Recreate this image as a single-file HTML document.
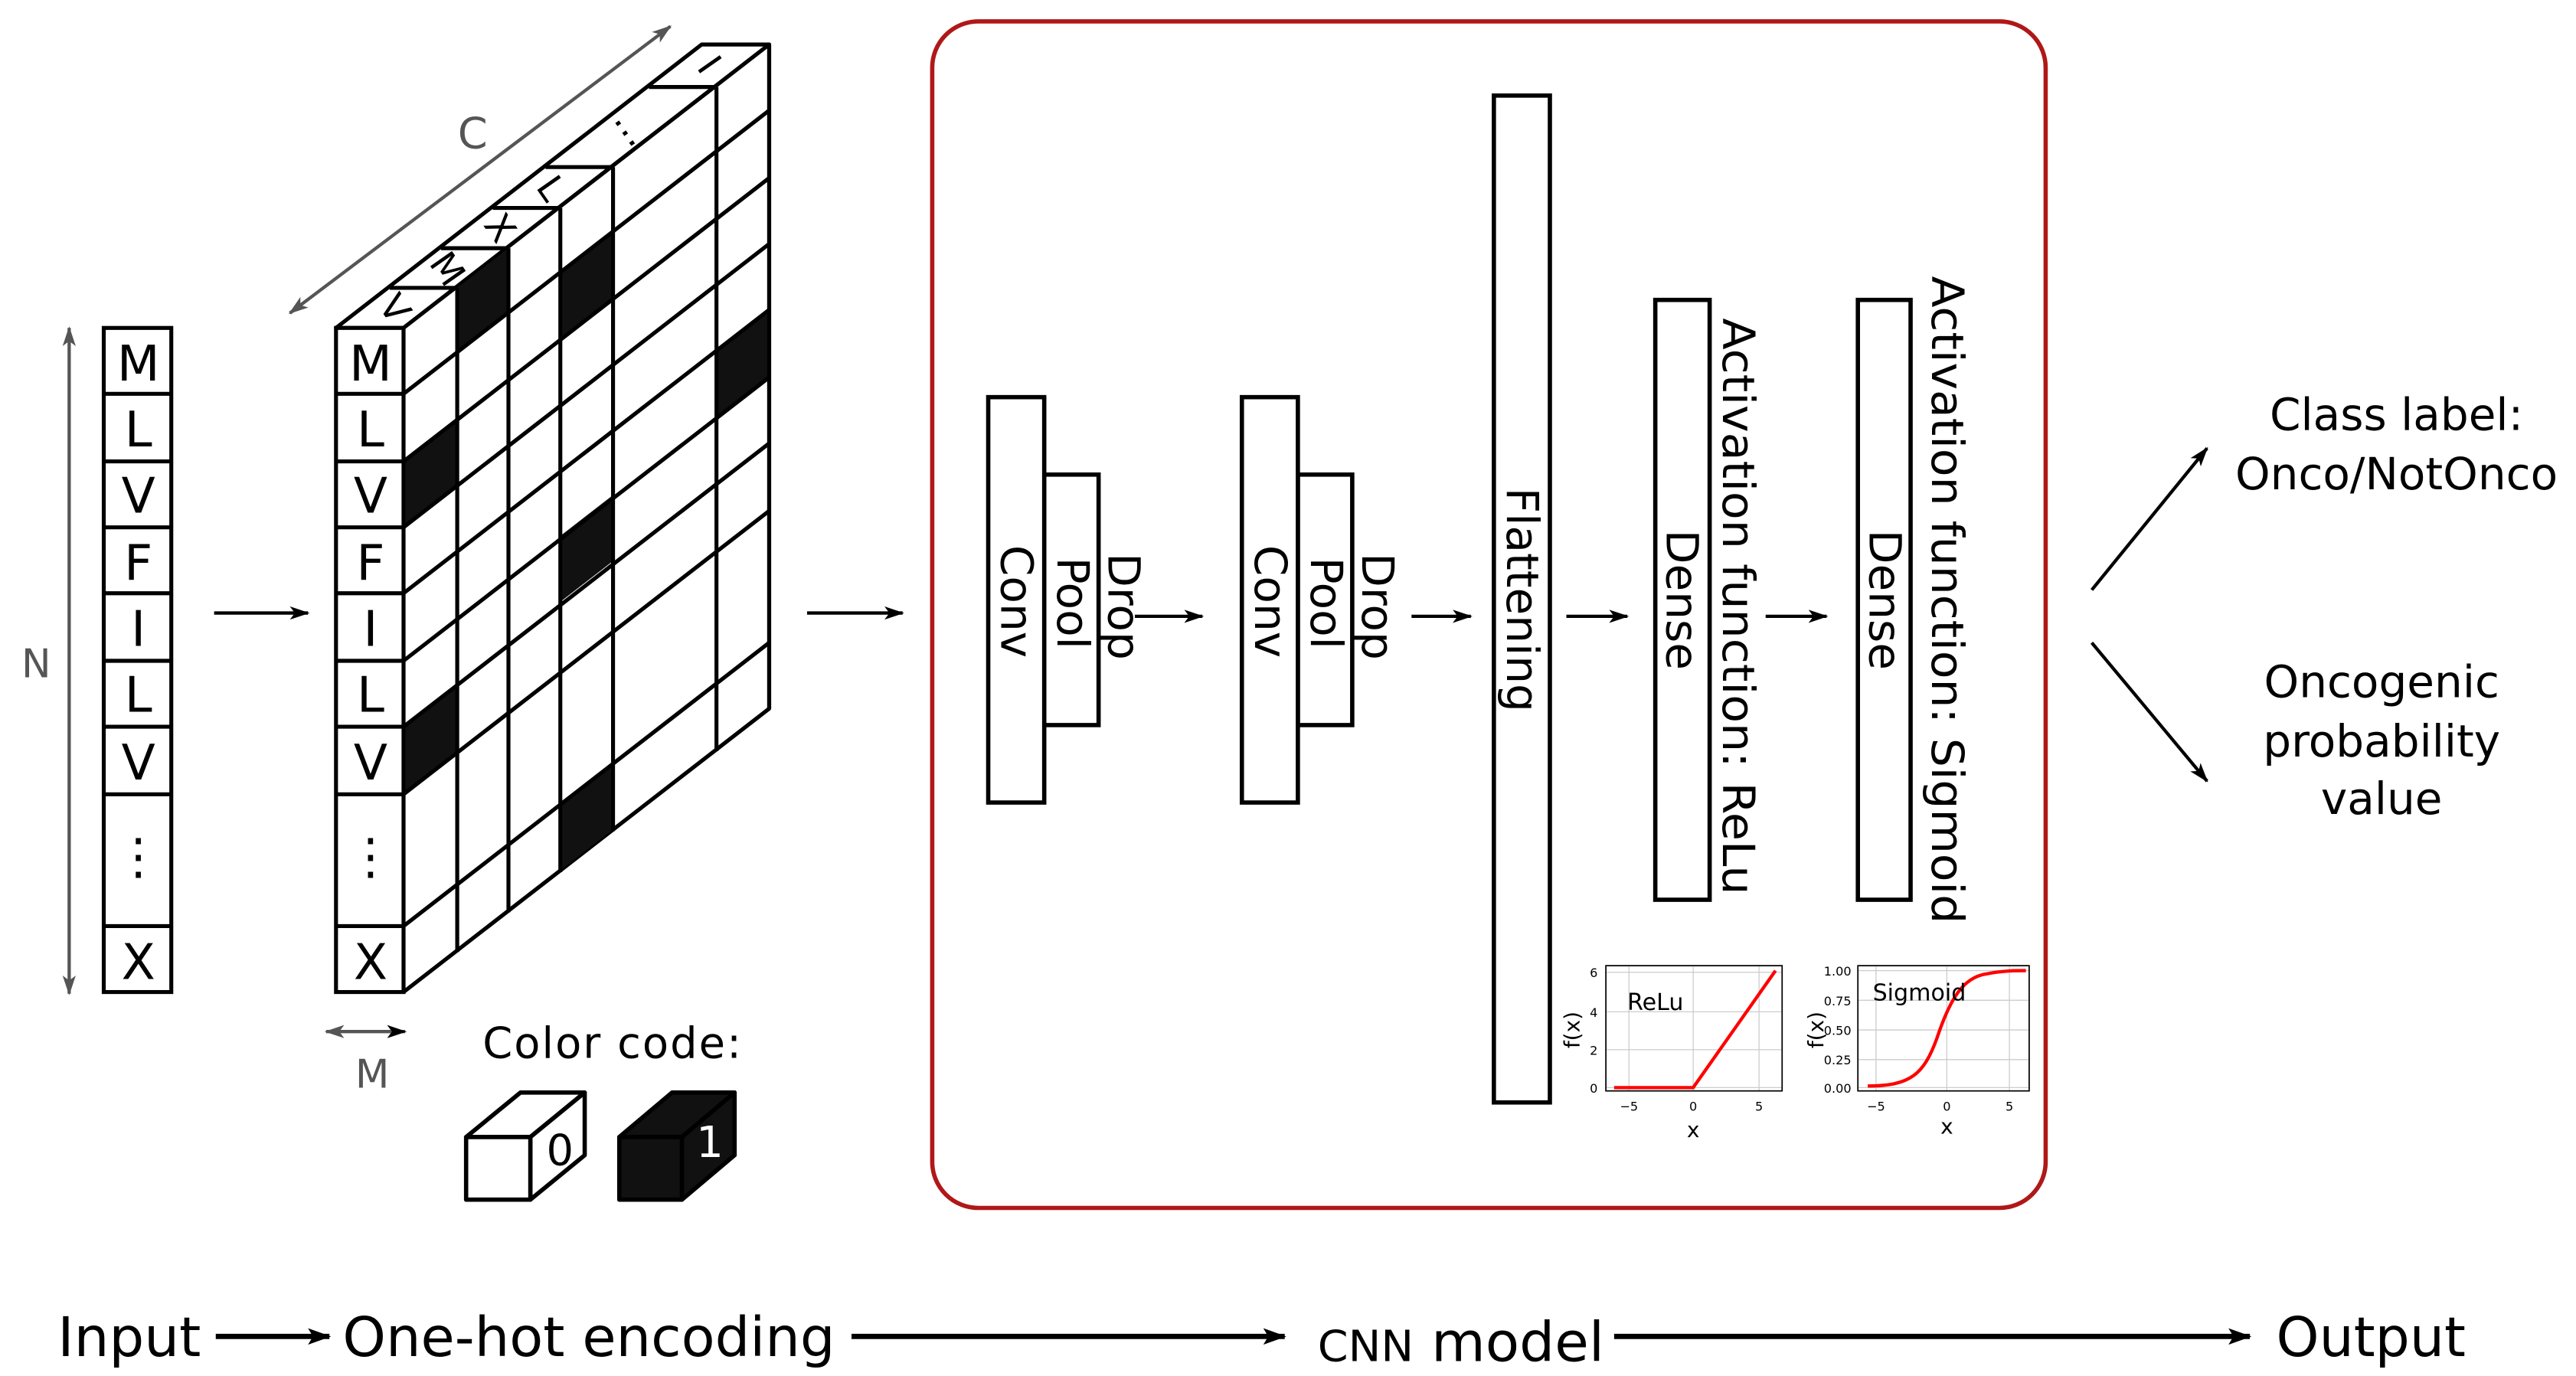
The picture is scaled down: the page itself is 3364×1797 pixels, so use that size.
<!DOCTYPE html>
<html><head><meta charset="utf-8"><style>html,body{margin:0;padding:0;background:#fff}svg{display:block}</style></head>
<body>
<svg width="3364" height="1797" viewBox="0 0 1564 835" preserveAspectRatio="none" xmlns="http://www.w3.org/2000/svg" font-family="'DejaVu Sans','Liberation Sans',sans-serif">
<defs>
<marker id="a" viewBox="0 0 12 8" refX="11" refY="4" markerWidth="12" markerHeight="8" markerUnits="userSpaceOnUse" orient="auto"><path d="M0,0 L12,4 L0,8 L3,4 z" fill="#000"/></marker>
<marker id="g" viewBox="0 0 12 8" refX="11" refY="4" markerWidth="12" markerHeight="8" markerUnits="userSpaceOnUse" orient="auto-start-reverse"><path d="M0,0 L12,4 L0,8 L3,4 z" fill="#555"/></marker>
<marker id="b" viewBox="0 0 14 10" refX="13" refY="5" markerWidth="14" markerHeight="10" markerUnits="userSpaceOnUse" orient="auto"><path d="M0,0 L14,5 L0,10 L3,5 z" fill="#000"/></marker>
</defs>

<!-- Left input column -->
<g stroke="#000" stroke-width="2.4" fill="#fff">
<rect x="63" y="199" width="41" height="403"/>
<path d="M63 239H104M63 280H104M63 320H104M63 360H104M63 401H104M63 441H104M63 482H104M63 562H104" fill="none"/>
</g>
<g font-size="30" text-anchor="middle" fill="#000">
<text x="84" y="231">M</text><text x="84" y="271">L</text><text x="84" y="311">V</text><text x="84" y="352">F</text><text x="84" y="392">I</text><text x="84" y="432">L</text><text x="84" y="473">V</text><text x="84" y="530">⋮</text><text x="84" y="594">X</text>
</g>
<line x1="42" y1="199" x2="42" y2="603" stroke="#555" stroke-width="2" marker-start="url(#g)" marker-end="url(#g)"/>
<text x="22" y="411" font-size="24" fill="#555" text-anchor="middle">N</text>
<line x1="130" y1="372" x2="187" y2="372" stroke="#000" stroke-width="2" marker-end="url(#a)"/>

<!-- One-hot cube -->
<g stroke="#000" stroke-width="2.4" fill="#fff" stroke-linejoin="round">
<polygon points="204,199 245,199 467,27 426,27"/>
<polygon points="245,199 467,27 467,430 245,602"/>
</g>
<g fill="#111">
<polygon points="245,280 277.6,254.7 277.6,294.7 245,320"/>
<polygon points="277.6,174.7 308.7,150.6 308.7,190.6 277.6,214.7"/>
<polygon points="340.2,165.2 372.2,140.4 372.2,180.4 340.2,205.2"/>
<polygon points="435,213.2 467,188.4 467,229.4 435,254.2"/>
<polygon points="340.2,325.2 372.2,300.4 372.2,340.4 340.2,365.2"/>
<polygon points="245,441 277.6,415.7 277.6,456.7 245,482"/>
<polygon points="340.2,488.2 372.2,463.4 372.2,503.4 340.2,528.2"/>
</g>
<g stroke="#000" stroke-width="2.4" fill="none">
<path d="M245,239 L467,67 M245,280 L467,108 M245,320 L467,148 M245,360 L467,188 M245,401 L467,229 M245,441 L467,269 M245,482 L467,310 M245,562 L467,390"/>
<path d="M277.6,174.7V577.7 M308.7,150.6V553.6 M340.2,126.2V529.2 M372.2,101.4V504.4 M435,52.8V455.8 M467,27V430"/>
<path d="M236.6,174.7H277.6 M267.7,150.6H308.7 M299.2,126.2H340.2 M331.2,101.4H372.2 M394,52.8H435"/>
<rect x="204" y="199" width="41" height="403" fill="#fff"/>
<path d="M204 239H245M204 280H245M204 320H245M204 360H245M204 401H245M204 441H245M204 482H245M204 562H245"/>
</g>
<g font-size="30" text-anchor="middle" fill="#000">
<text x="225" y="231">M</text><text x="225" y="271">L</text><text x="225" y="311">V</text><text x="225" y="352">F</text><text x="225" y="392">I</text><text x="225" y="432">L</text><text x="225" y="473">V</text><text x="225" y="530">⋮</text><text x="225" y="594">X</text>
</g>
<g font-size="22" text-anchor="middle" fill="#000">
<text transform="translate(240,187) rotate(55)" y="8">V</text>
<text transform="translate(272,163) rotate(55)" y="8">M</text>
<text transform="translate(304,138) rotate(55)" y="8">X</text>
<text transform="translate(335,114) rotate(55)" y="8">L</text>
<text transform="translate(385,77) rotate(55)" y="8">…</text>
<text transform="translate(431,39) rotate(55)" y="8">I</text>
</g>
<line x1="176" y1="190" x2="407" y2="16" stroke="#555" stroke-width="2" marker-start="url(#g)" marker-end="url(#g)"/>
<text x="287" y="90" font-size="26" fill="#555" text-anchor="middle">C</text>
<line x1="198" y1="626" x2="246" y2="626" stroke="#555" stroke-width="2" marker-start="url(#g)" marker-end="url(#a)"/>
<text x="226" y="660" font-size="24" fill="#555" text-anchor="middle">M</text>

<!-- color code -->
<text x="293" y="642" font-size="26" fill="#000" textLength="157">Color code:</text>
<g stroke="#000" stroke-width="2.6" stroke-linejoin="round">
<polygon points="283,690 322,690 355,663 316,663" fill="#fff"/>
<polygon points="322,690 355,663 355,701 322,728" fill="#fff"/>
<rect x="283" y="690" width="39" height="38" fill="#fff"/>
<polygon points="376,690 414,690 446,663 408,663" fill="#111"/>
<polygon points="414,690 446,663 446,701 414,728" fill="#111"/>
<rect x="376" y="690" width="38" height="38" fill="#111"/>
</g>
<text x="340" y="707" font-size="26" text-anchor="middle" fill="#000">0</text>
<text x="431" y="702" font-size="26" text-anchor="middle" fill="#fff">1</text>

<line x1="490" y1="372" x2="548" y2="372" stroke="#000" stroke-width="2" marker-end="url(#a)"/>

<!-- CNN box -->
<rect x="566" y="13" width="676" height="720" rx="28" fill="none" stroke="#b01818" stroke-width="2.6"/>
<g stroke="#000" stroke-width="2.6" fill="#fff">
<rect x="634" y="288" width="33" height="152"/>
<rect x="600" y="241" width="34" height="246"/>
<rect x="788" y="288" width="33" height="152"/>
<rect x="754" y="241" width="34" height="246"/>
<rect x="907" y="58" width="34" height="611"/>
<rect x="1005" y="182" width="33" height="364"/>
<rect x="1128" y="182" width="32" height="364"/>
</g>
<g font-size="27" fill="#000" text-anchor="middle">
<text transform="translate(608,365) rotate(90)">Conv</text>
<text transform="translate(642,366) rotate(90)">Pool</text>
<text transform="translate(673,368) rotate(90)">Drop</text>
<text transform="translate(762,365) rotate(90)">Conv</text>
<text transform="translate(796,366) rotate(90)">Pool</text>
<text transform="translate(827,368) rotate(90)">Drop</text>
<text transform="translate(915,364) rotate(90)">Flattening</text>
<text transform="translate(1012,364) rotate(90)">Dense</text>
<text transform="translate(1135,364) rotate(90)">Dense</text>
<text transform="translate(1046,368) rotate(90)" textLength="350" lengthAdjust="spacingAndGlyphs">Activation function: ReLu</text>
<text transform="translate(1173,364) rotate(90)" textLength="393" lengthAdjust="spacingAndGlyphs">Activation function: Sigmoid</text>
</g>
<g stroke="#000" stroke-width="2" marker-end="url(#a)">
<line x1="689" y1="374" x2="730" y2="374"/>
<line x1="857" y1="374" x2="893" y2="374"/>
<line x1="951" y1="374" x2="988" y2="374"/>
<line x1="1072" y1="374" x2="1109" y2="374"/>
</g>

<!-- plots -->
<g stroke="#ccc" stroke-width="0.6">
<path d="M989,586V662 M1028,586V662 M1068,586V662 M975,590H1082 M975,614H1082 M975,637H1082 M975,660H1082"/>
<path d="M1139,586V662 M1182,586V662 M1220,586V662 M1128,589H1232 M1128,607H1232 M1128,625H1232 M1128,643H1232 M1128,660H1232"/>
</g>
<rect x="975" y="586" width="107" height="76" fill="none" stroke="#000" stroke-width="0.8"/>
<rect x="1128" y="586" width="104" height="76" fill="none" stroke="#000" stroke-width="0.8"/>
<polyline points="980,660 1028,660 1078,589" fill="none" stroke="#f00" stroke-width="2"/>
<path d="M1134,659 C1160,659 1168,652 1176,630 C1184,606 1192,593 1206,591 C1216,589 1224,589 1230,589" fill="none" stroke="#f00" stroke-width="2"/>
<g font-size="7.5" fill="#000" text-anchor="middle">
<text x="989" y="674">−5</text><text x="1028" y="674">0</text><text x="1068" y="674">5</text>
<text x="970" y="663" text-anchor="end">0</text><text x="970" y="640" text-anchor="end">2</text><text x="970" y="617" text-anchor="end">4</text><text x="970" y="593" text-anchor="end">6</text>
<text x="1139" y="674">−5</text><text x="1182" y="674">0</text><text x="1220" y="674">5</text>
<text x="1124" y="663" text-anchor="end">0.00</text><text x="1124" y="646" text-anchor="end">0.25</text><text x="1124" y="628" text-anchor="end">0.50</text><text x="1124" y="610" text-anchor="end">0.75</text><text x="1124" y="592" text-anchor="end">1.00</text>
</g>
<text x="988" y="613" font-size="14" fill="#000">ReLu</text>
<text x="1137" y="607" font-size="14" fill="#000">Sigmoid</text>
<text x="1028" y="690" font-size="13" text-anchor="middle">x</text>
<text x="1182" y="688" font-size="13" text-anchor="middle">x</text>
<text transform="translate(959,625) rotate(-90)" font-size="13" text-anchor="middle">f(x)</text>
<text transform="translate(1107,625) rotate(-90)" font-size="13" text-anchor="middle">f(x)</text>

<!-- Output -->
<g stroke="#000" stroke-width="2" marker-end="url(#a)">
<line x1="1270" y1="358" x2="1340" y2="272"/>
<line x1="1270" y1="390" x2="1340" y2="474"/>
</g>
<g font-size="27" text-anchor="middle" fill="#000">
<text x="1455" y="261">Class label:</text>
<text x="1455" y="297">Onco/NotOnco</text>
<text x="1446" y="423">Oncogenic</text>
<text x="1446" y="459">probability</text>
<text x="1446" y="494">value</text>
</g>

<!-- bottom -->
<g font-size="33" fill="#000">
<text x="35" y="823" textLength="87" lengthAdjust="spacingAndGlyphs">Input</text>
<text x="208" y="823" textLength="299" lengthAdjust="spacingAndGlyphs">One-hot encoding</text>
<text x="800" y="826" textLength="174" lengthAdjust="spacingAndGlyphs"><tspan font-size="26">CNN</tspan> model</text>
<text x="1382" y="823" textLength="115" lengthAdjust="spacingAndGlyphs">Output</text>
</g>
<g stroke="#000" stroke-width="3.2" marker-end="url(#b)">
<line x1="131" y1="811" x2="200" y2="811"/>
<line x1="517" y1="811" x2="780" y2="811"/>
<line x1="980" y1="811" x2="1366" y2="811"/>
</g>
</svg>
</body></html>
